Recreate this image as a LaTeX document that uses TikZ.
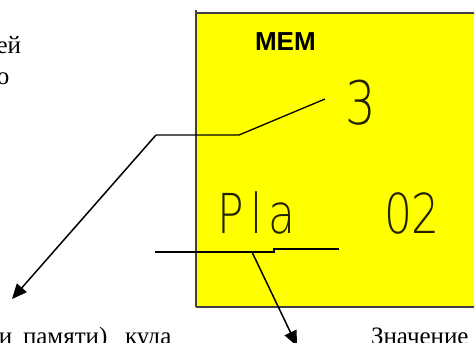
\documentclass[tikz,border=0pt]{standalone}
\usepackage{fontspec}
\setmainfont{Liberation Serif}
\newfontfamily\boldsans{Liberation Sans}
\newfontfamily\thinsans[FakeStretch=0.8]{DejaVu Sans ExtraLight}
\usetikzlibrary{arrows.meta}
\definecolor{memyellow}{HTML}{FFFF00}
\definecolor{framegray}{HTML}{404040}
\definecolor{lcdink}{HTML}{222200}
\tikzset{
  bodytext/.style={inner sep=0pt, outer sep=0pt, font=\fontsize{25bp}{30bp}\selectfont},
  lcdtext/.style={inner sep=0pt, outer sep=0pt, text=lcdink},
  leader/.style={line width=1.3bp, black},
  pointer/.style={line width=1.5bp, black, -{Triangle[length=15bp,width=13bp]}},
}
\begin{document}
\begin{tikzpicture}[x=1bp,y=-1bp]
\useasboundingbox (0,0) rectangle (474,342);
\clip (0,0) rectangle (474,342);
% yellow display panel
\fill[memyellow] (196,13) rectangle (480,307);
\draw[framegray, line width=1.5bp] (196,10) -- (196,307);
\draw[framegray, line width=2bp] (196,13) -- (480,13);
\draw[framegray, line width=2bp] (196,307) -- (480,307);
% texts in the panel
\node[lcdtext, anchor=base west, font=\boldsans\bfseries\fontsize{26bp}{30bp}\selectfont, text=black] (mem) at (255,50) {МЕМ};
\node[lcdtext, anchor=base west, font=\thinsans\fontsize{60bp}{60bp}\selectfont] (three) at (345,124) {3};
\node[lcdtext, anchor=base west, font=\thinsans\fontsize{55bp}{55bp}\selectfont] (pla) at (217,233) {P\hspace{7bp}l\hspace{6bp}a};
\node[lcdtext, anchor=base west, font=\thinsans\fontsize{55bp}{55bp}\selectfont] (zt) at (384,233) {02};
% surrounding text fragments
\node[bodytext, anchor=base east] (t1) at (21,53) {ей};
\node[bodytext, anchor=base east] (t2) at (9.5,84) {о};
\node[bodytext, anchor=base west] (w1) at (-1,344) {и};
\node[bodytext, anchor=base west] (w2) at (23,344) {памяти)};
\node[bodytext, anchor=base west] (w3) at (125,344) {куда};
\node[bodytext, anchor=base west] (w4) at (371,344) {Значение};
% leader lines
\coordinate (a0) at (156,135);
\coordinate (a1) at (239,135);
\coordinate (a2) at (325,99);
\coordinate (a3) at (12,299);
\draw[leader] (a0) -- (a1) -- (a2);
\draw[pointer] (a0) -- (a3);
\coordinate (b0) at (155,252);
\coordinate (b1) at (274,252);
\coordinate (b2) at (274,249);
\coordinate (b3) at (339,249);
\coordinate (b4) at (252,252);
\coordinate (b5) at (297,346);
\draw[leader] (b0) -- (b1) -- (b2) -- (b3);
\draw[pointer] (b4) -- (b5);
\end{tikzpicture}
\end{document}
